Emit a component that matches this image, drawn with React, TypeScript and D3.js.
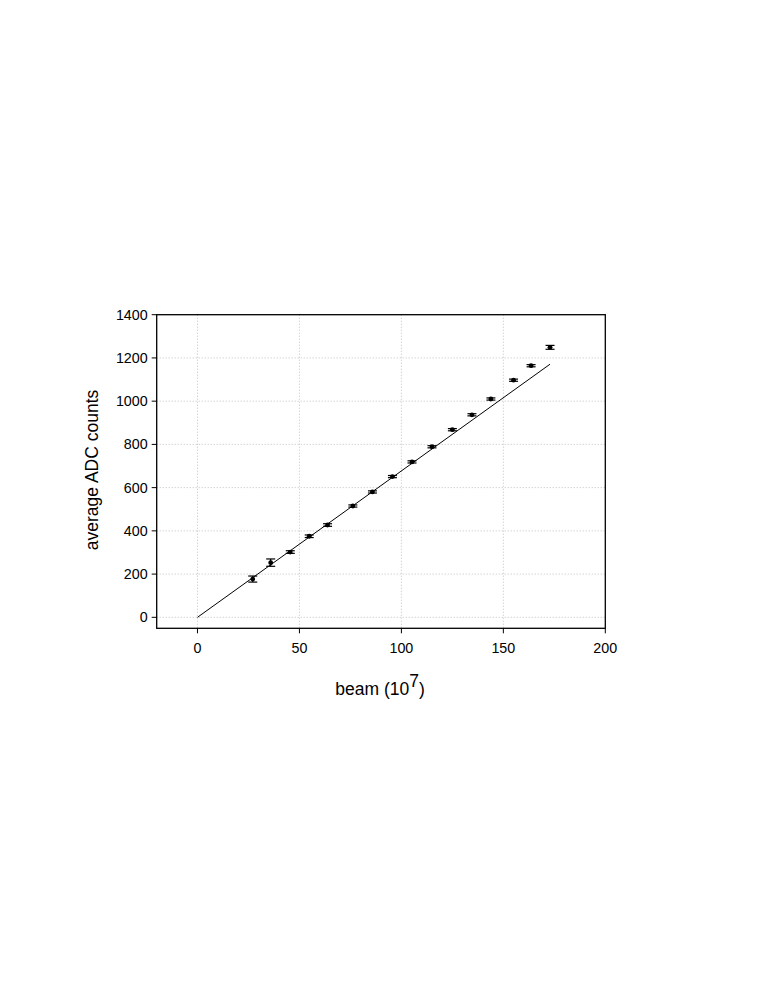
import React from "react";
import * as d3 from "d3";

const beam = [27.1, 35.9, 45.5, 54.8, 63.8, 76.2, 85.8, 95.6, 105.2, 115, 125, 134.6, 143.9, 155, 163.6, 172.9];
const adc = [177, 253, 302, 375, 427, 515, 580, 651, 719, 789, 868, 937, 1010, 1097, 1164, 1249];
const adcErr = [14, 17, 6, 6, 6, 5, 5, 5, 5, 5, 5, 5, 5, 5, 5, 9];
const fitX = [0, 172.9];
const fitY = [0, 1171];
const xTicks = [0, 50, 100, 150, 200];
const yTicks = [0, 200, 400, 600, 800, 1000, 1200, 1400];

export default function App() {
  const W = 763, H = 987;
  const left = 156.7, right = 605.3, top = 314.7, bottom = 628.3;
  const x = d3.scaleLinear().domain([-20, 200]).range([left, right]);
  const y = d3.scaleLinear().domain([-50.8, 1400]).range([bottom, top]);
  const line = d3.line<number>().x((d, i) => x(fitX[i])).y((d, i) => y(fitY[i]));
  const font = "'Liberation Sans', Arial, Helvetica, sans-serif";
  const cap = 4.5;
  return (
    <svg width={W} height={H} style={{ position: "absolute", left: 0, top: 0, background: "#fff" }}>
      <rect x={0} y={0} width={W} height={H} fill="#fff" />
      {xTicks.filter(t => t < 200).map(t => (
        <line key={"gx" + t} x1={x(t)} x2={x(t)} y1={top} y2={bottom} stroke="#c0c0c0" strokeWidth={1} strokeDasharray="1,2" />
      ))}
      {yTicks.filter(t => t < 1400).map(t => (
        <line key={"gy" + t} x1={left} x2={right} y1={y(t)} y2={y(t)} stroke="#c0c0c0" strokeWidth={1} strokeDasharray="1,2" />
      ))}
      <path d={line(fitX) || ""} fill="none" stroke="#000" strokeWidth={1} />
      {beam.map((b, i) => {
        const cx = x(b), cy = y(adc[i]);
        const y1 = y(adc[i] + adcErr[i]), y2 = y(adc[i] - adcErr[i]);
        return (
          <g key={"p" + i} stroke="#000" strokeWidth={1.2}>
            <line x1={cx} x2={cx} y1={y1} y2={y2} />
            <line x1={cx - cap} x2={cx + cap} y1={y1} y2={y1} />
            <line x1={cx - cap} x2={cx + cap} y1={y2} y2={y2} />
            <circle cx={cx} cy={cy} r={2.4} fill="#000" stroke="none" />
          </g>
        );
      })}
      <rect x={left} y={top} width={right - left} height={bottom - top} fill="none" stroke="#000" strokeWidth={1.3} />
      {yTicks.map(t => (
        <g key={"ty" + t}>
          <line x1={left - 5} x2={left} y1={y(t)} y2={y(t)} stroke="#000" strokeWidth={1} />
          <text x={left - 9} y={y(t)} dy="0.35em" textAnchor="end" fontFamily={font} fontSize={14.3} fill="#000">{t}</text>
        </g>
      ))}
      {xTicks.map(t => (
        <g key={"tx" + t}>
          <line x1={x(t)} x2={x(t)} y1={bottom} y2={bottom + 5} stroke="#000" strokeWidth={1} />
          <text x={x(t)} y={653} textAnchor="middle" fontFamily={font} fontSize={14.3} fill="#000">{t}</text>
        </g>
      ))}
      <text x={380} y={695} textAnchor="middle" fontFamily={font} fontSize={17.5} fill="#000">
        beam (10<tspan dy={-8}>7</tspan><tspan dy={8}>)</tspan>
      </text>
      <text transform={`translate(98, 470) rotate(-90)`} textAnchor="middle" fontFamily={font} fontSize={17.5} fill="#000">average ADC counts</text>
    </svg>
  );
}
